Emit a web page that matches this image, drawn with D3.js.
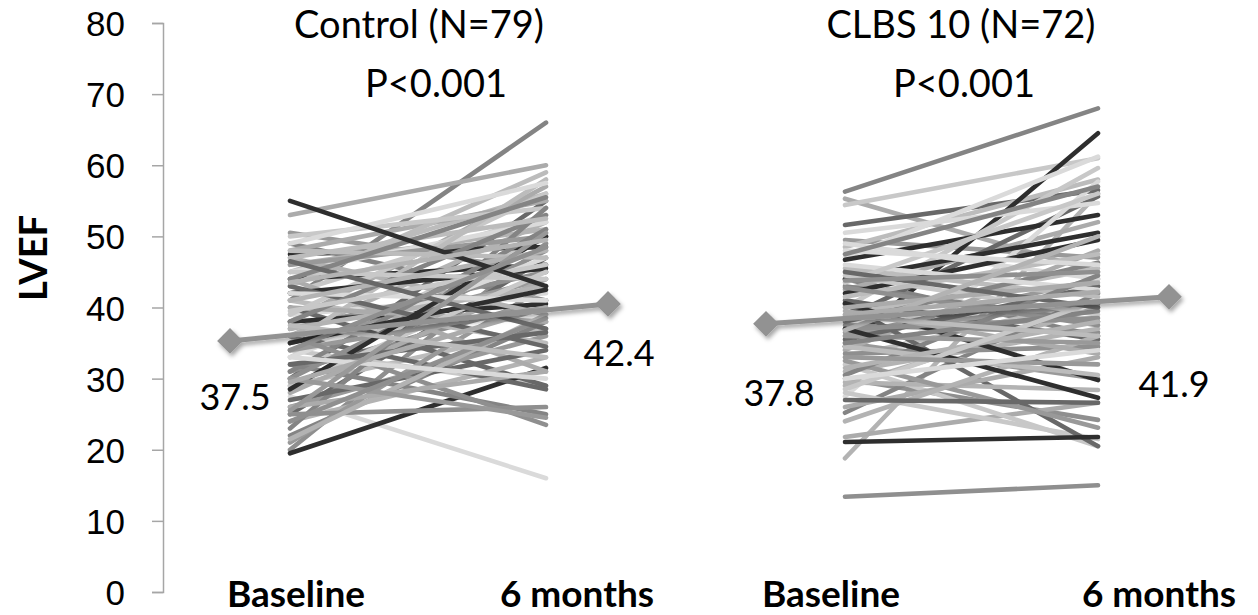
<!DOCTYPE html>
<html lang="en">
<head>
    <meta charset="UTF-8">
    <title>LVEF Baseline vs 6 months</title>
    <script src="https://d3js.org/d3.v7.min.js"></script>
    <style>
        body { margin: 0; background: #fff; }
        svg { font-family: Lato, "Open Sans", sans-serif; }
        .axis path, .axis line { stroke: #a6a6a6; stroke-width: 1.5; }
        .axis text { font-size: 35px; fill: #000; }
        .patient { fill: none; stroke-width: 4.6; stroke-linecap: round; }
        .mean-line { fill: none; stroke: #929292; stroke-width: 5; }
        .mean-dot { fill: #929292; }
        .title { font-size: 38px; text-anchor: middle; }
        .value { font-size: 36px; text-anchor: middle; }
        .cat { font-size: 37px; font-weight: bold; text-anchor: middle; }
    </style>
</head>
<body>
    <svg width="1258" height="615"></svg>
    <script>
        // values
        const timepoints = ["Baseline", "6 months"];
        const groupTitles = ["Control (N=79)", "CLBS 10 (N=72)"];
        const pValues = ["P<0.001", "P<0.001"];
        const meanLabels = [["37.5", "42.4"], ["37.8", "41.9"]];
        const controlMean = [35.3, 40.5];
        const clbsMean = [37.7, 41.5];
        const yTicks = [0, 10, 20, 30, 40, 50, 60, 70, 80];

        const controlBaseline = [41, 53, 33, 30, 50.5, 45, 47.5, 20, 36, 27.5,
            49, 38, 42, 25, 35, 29, 44, 31, 46, 39,
            22, 48, 34, 40, 26, 43, 19.5, 37, 24, 45,
            32, 28, 50, 36, 21, 41, 38, 30, 47, 33,
            23, 44, 39, 27, 46, 35, 42, 25, 37, 49,
            31, 40, 29, 43, 34, 48, 28.5, 36, 21.5, 42,
            38, 26, 45, 32, 30, 47, 35, 24, 41, 33,
            44, 29.5, 39.5, 46.5, 25.5, 37.5, 55, 34, 43.5];
        const controlSixMonths = [66, 60, 50, 55, 45, 56, 48.5, 49, 52, 16,
            41, 57, 53, 47, 44, 37, 46, 41, 51, 42,
            38, 55, 29, 29, 36, 59, 31.5, 45, 33, 52,
            25, 44, 54, 28.5, 43, 35, 40.5, 48, 39, 47,
            54, 31, 56, 34, 50, 58, 45.5, 26, 43, 57.5,
            51, 38, 45, 34.5, 40, 47, 50, 23.5, 39, 41,
            53, 31, 44, 36.5, 24.5, 52.5, 42.5, 38.5, 48, 30,
            55.5, 40, 46, 37, 50.5, 33, 43, 48.5, 49.5];

        const clbsBaseline = [56.3, 55.3, 54.4, 51.6, 49.5, 48.5, 34.5, 13.4, 18.8, 47,
            44, 42.5, 40, 38.5, 36, 33, 46.7, 30, 29, 27.5,
            25.2, 21.8, 32, 41, 35, 39, 44, 37.5, 31, 49,
            43, 34, 28, 40.5, 36.5, 45.5, 42, 33.5, 29.5, 50.5,
            38, 26, 44.5, 35.5, 32.5, 41.5, 40.6, 37, 24, 46,
            30.5, 39.5, 43.5, 27, 36, 34.5, 37, 42.8, 31.5, 48,
            35, 40, 28.5, 45, 33, 38.8, 21.1, 43.8, 36.8, 30,
            47.5, 39];
        const clbsSixMonths = [68, 45, 61, 56.5, 47, 58, 64.5, 15, 56, 61.2,
            36, 52, 59.6, 55.6, 44, 41, 53, 24.2, 40, 57.7,
            42, 26.6, 20.5, 35.5, 30, 45.5, 50.5, 36.5, 37, 44,
            38, 48, 21.5, 20.5, 40.5, 41.5, 49.5, 34.5, 28.4, 54.7,
            46.3, 33, 39, 43, 23.1, 47.5, 29.8, 38.5, 36, 42.5,
            44.5, 33.5, 56, 26.6, 35, 30.5, 27.3, 37.5, 38, 46,
            39.5, 43.5, 41, 40, 32, 36, 21.8, 45, 50, 34,
            57, 42.2];

        // series colours, cycled like the office grayscale theme
        const grays = ["#848484", "#ababab", "#c8c8c8", "#686868", "#999999",
                       "#bcbcbc", "#2e2e2e", "#8f8f8f", "#b3b3b3", "#dadada"];

        const svg = d3.select("svg");

        const defs = svg.append("defs");
        defs.append("filter").attr("id", "shadow")
            .attr("x", "-50%").attr("y", "-50%").attr("width", "200%").attr("height", "200%")
            .append("feDropShadow")
            .attr("dx", 2).attr("dy", 3).attr("stdDeviation", 2)
            .attr("flood-color", "#000").attr("flood-opacity", 0.35);

        const y = d3.scaleLinear().domain([0, 80]).range([592, 23]);

        svg.append("g")
            .attr("class", "axis")
            .attr("transform", "translate(163,0)")
            .call(d3.axisLeft(y).tickValues(yTicks).tickSize(11).tickPadding(27))
            .call(g => g.selectAll("text").attr("dy", "0.36em"));

        svg.append("text")
            .attr("transform", "translate(47,258) rotate(-90)")
            .attr("text-anchor", "middle")
            .attr("font-size", 38)
            .attr("font-weight", "bold")
            .text("LVEF");

        const groups = [
            {base: controlBaseline, six: controlSixMonths, mean: controlMean,
             lines: [290, 546], means: [230, 608], cats: [296, 577], title: 419,
             labelDx: [5, 11], labelDy: [69, 62]},
            {base: clbsBaseline, six: clbsSixMonths, mean: clbsMean,
             lines: [845, 1098], means: [766, 1169], cats: [831, 1159], title: 961,
             labelDx: [13, 5], labelDy: [82, 100]}
        ];

        groups.forEach((grp, gi) => {
            const x = d3.scalePoint().domain(timepoints).range(grp.lines);
            const xm = d3.scalePoint().domain(timepoints).range(grp.means);
            const xc = d3.scalePoint().domain(timepoints).range(grp.cats);

            const pairs = grp.base.map((b, i) => [b, grp.six[i]]);
            const line = d3.line()
                .x((d, j) => x(timepoints[j]))
                .y(d => y(d));

            svg.append("g").selectAll("path")
                .data(pairs)
                .join("path")
                .attr("class", "patient")
                .attr("stroke", (d, i) => grays[i % grays.length])
                .attr("d", line);

            const mg = svg.append("g").attr("filter", "url(#shadow)");
            mg.append("path")
                .attr("class", "mean-line")
                .attr("d", d3.line().x((d, j) => xm(timepoints[j])).y(d => y(d))(grp.mean));
            mg.selectAll(".mean-dot")
                .data(grp.mean)
                .join("path")
                .attr("class", "mean-dot")
                .attr("d", d3.symbol(d3.symbolSquare, 330))
                .attr("transform", (d, j) => `translate(${xm(timepoints[j])},${y(d)}) rotate(45)`);

            svg.append("g").selectAll("text")
                .data(grp.mean)
                .join("text")
                .attr("class", "value")
                .attr("x", (d, j) => xm(timepoints[j]) + grp.labelDx[j])
                .attr("y", (d, j) => y(d) + grp.labelDy[j])
                .text((d, j) => meanLabels[gi][j]);

            svg.append("text").attr("class", "title")
                .attr("x", grp.title).attr("y", 38)
                .text(groupTitles[gi]);
            svg.append("text").attr("class", "title")
                .attr("x", grp.title + (gi === 0 ? 17 : 3)).attr("y", 97)
                .text(pValues[gi]);

            svg.append("g").selectAll("text")
                .data(timepoints)
                .join("text")
                .attr("class", "cat")
                .attr("x", d => xc(d))
                .attr("y", 607)
                .text(d => d);
        });
    </script>
</body>
</html>
